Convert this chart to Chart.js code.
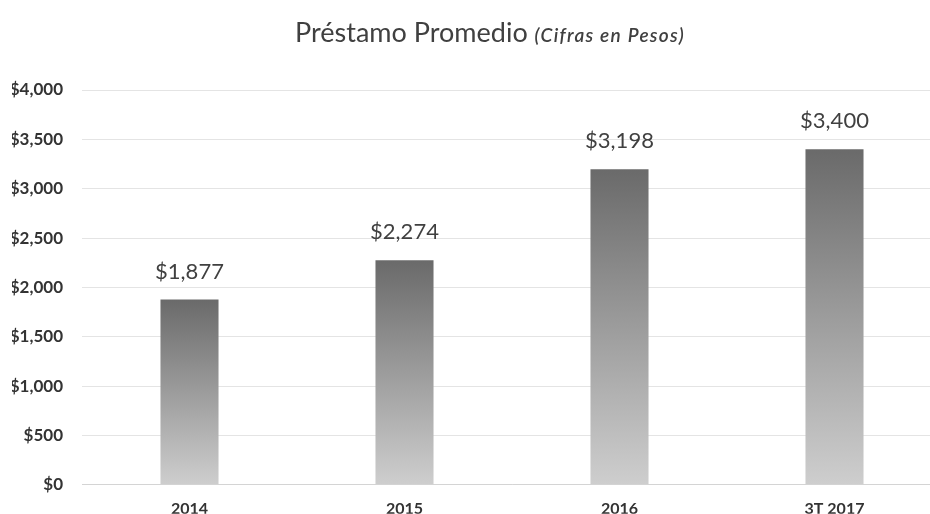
<!DOCTYPE html>
<html>
<head>
<meta charset="utf-8">
<script src="https://cdn.jsdelivr.net/npm/chart.js@4"></script>
<style>
  html, body { margin: 0; padding: 0; background: #fff; overflow: hidden; }
  #wrap { position: relative; width: 942px; height: 514px; }
  #title {
    position: absolute; left: 0; width: 980px; top: 15px; text-align: center;
    font-family: Lato, "Open Sans", sans-serif; font-size: 27px; color: #404040;
  }
  #title i { font-size: 19px; letter-spacing: 1.3px; font-weight: 600; }
  canvas { display: block; }
</style>
</head>
<body>
<div id="wrap">
  <div id="title">Préstamo Promedio <i>(Cifras en Pesos)</i></div>
  <canvas id="chart" width="942" height="514"></canvas>
</div>
<script>
// Chart values
const categories = ['2014', '2015', '2016', '3T 2017'];
const prestamo = [1877, 2274, 3198, 3400];
const yTicks = [0, 500, 1000, 1500, 2000, 2500, 3000, 3500, 4000];

const fmt = v => '$' + v.toLocaleString('en-US');

// gradient per bar, dark at its top, light at the base
function barGradient(context) {
  const chart = context.chart;
  const area = chart.chartArea;
  if (!area) return '#888';
  const y = chart.scales.y;
  const top = y.getPixelForValue(context.raw);
  const bottom = y.getPixelForValue(0);
  const g = chart.ctx.createLinearGradient(0, top, 0, bottom);
  g.addColorStop(0, '#6a6a6a');
  g.addColorStop(1, '#cecece');
  return g;
}

// value labels above the bars
const valueLabels = {
  id: 'valueLabels',
  afterDatasetsDraw(chart) {
    const ctx = chart.ctx;
    const meta = chart.getDatasetMeta(0);
    ctx.save();
    ctx.font = '22px Lato, "Open Sans", sans-serif';
    ctx.fillStyle = '#404040';
    ctx.textAlign = 'center';
    ctx.textBaseline = 'middle';
    meta.data.forEach((bar, i) => {
      ctx.fillText(fmt(prestamo[i]), bar.x, bar.y - 28);
    });
    ctx.restore();
  }
};

new Chart(document.getElementById('chart'), {
  type: 'bar',
  data: {
    labels: categories,
    datasets: [{
      label: 'Préstamo Promedio',
      data: prestamo,
      backgroundColor: barGradient,
      barPercentage: 0.54,
      categoryPercentage: 0.5
    }]
  },
  options: {
    responsive: false,
    animation: false,
    layout: { padding: { top: 90, left: 12, right: 0, bottom: 0 } },
    plugins: {
      legend: { display: false },
      title: { display: false },
      tooltip: { enabled: false }
    },
    scales: {
      x: {
        grid: { display: false, drawTicks: false },
        border: { color: '#d4d4d4' },
        afterFit: axis => { axis.height = 29; },
        ticks: {
          color: '#333',
          padding: 14,
          font: { family: 'Lato, "Open Sans", sans-serif', size: 16, weight: 'bold' }
        }
      },
      y: {
        min: 0,
        max: 4000,
        afterBuildTicks: axis => { axis.ticks = yTicks.map(v => ({ value: v })); },
        afterFit: axis => { axis.width = 70; },
        grid: { color: '#e4e4e4', drawTicks: false },
        border: { display: false },
        ticks: {
          color: '#333',
          padding: 19,
          font: { family: 'Lato, "Open Sans", sans-serif', size: 17, weight: 'bold' },
          callback: v => fmt(v)
        }
      }
    }
  },
  plugins: [valueLabels]
});
</script>
</body>
</html>
